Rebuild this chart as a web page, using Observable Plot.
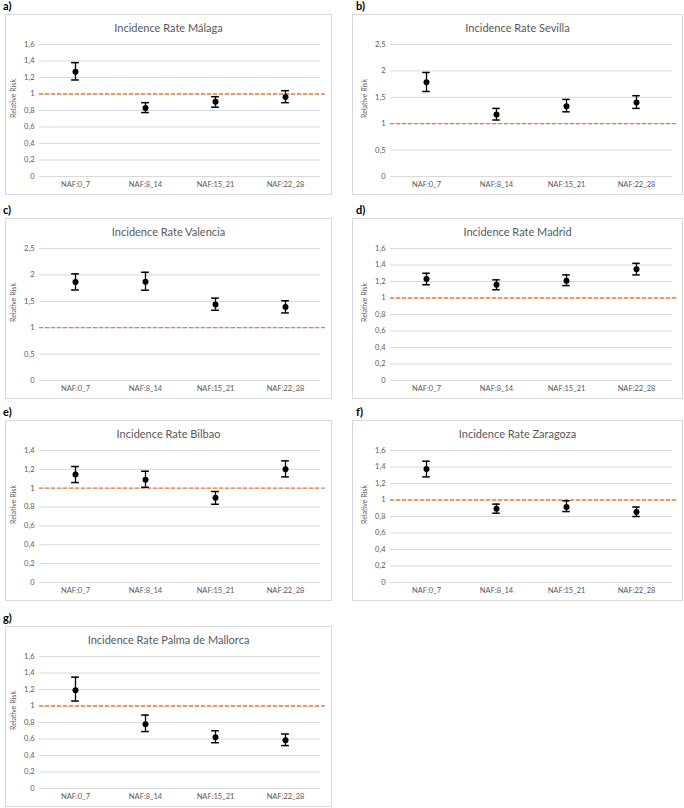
<!DOCTYPE html>
<html><head><meta charset="utf-8">
<script src="https://cdn.jsdelivr.net/npm/d3@7"></script>
<script src="https://cdn.jsdelivr.net/npm/@observablehq/plot@0.6"></script>
<style>
html,body{margin:0;padding:0;background:#fff;}
body{width:684px;height:808px;position:relative;overflow:hidden;font-family:Lato,"Open Sans",sans-serif;}
.lab{position:absolute;font-weight:bold;font-size:11px;line-height:13px;color:#000;}
.box{position:absolute;border:1px solid #d9d9d9;box-sizing:border-box;background:#fff;}
.title{position:absolute;left:0;right:0;top:6px;text-align:center;font-size:11px;line-height:14px;color:#595959;z-index:2;}
.box svg{position:absolute;left:0;top:0;}
</style></head><body>
<script>
const categories = ["NAF:0_7", "NAF:8_14", "NAF:15_21", "NAF:22_28"];
const panelLabels = ["a)", "b)", "c)", "d)", "e)", "f)", "g)"];
const cities = ["Málaga", "Sevilla", "Valencia", "Madrid", "Bilbao", "Zaragoza", "Palma de Mallorca"];

const malagaRR = [1.27, 0.83, 0.905, 0.965];
const malagaLo = [1.17, 0.775, 0.84, 0.895];
const malagaHi = [1.38, 0.895, 0.967, 1.04];

const sevillaRR = [1.785, 1.175, 1.33, 1.40];
const sevillaLo = [1.61, 1.07, 1.225, 1.29];
const sevillaHi = [1.97, 1.29, 1.46, 1.53];

const valenciaRR = [1.866, 1.87, 1.44, 1.39];
const valenciaLo = [1.715, 1.71, 1.33, 1.28];
const valenciaHi = [2.02, 2.05, 1.56, 1.51];

const madridRR = [1.23, 1.16, 1.21, 1.35];
const madridLo = [1.16, 1.10, 1.15, 1.28];
const madridHi = [1.30, 1.22, 1.28, 1.42];

const bilbaoRR = [1.145, 1.09, 0.90, 1.20];
const bilbaoLo = [1.06, 1.01, 0.83, 1.12];
const bilbaoHi = [1.23, 1.18, 0.965, 1.29];

const zaragozaRR = [1.375, 0.895, 0.915, 0.855];
const zaragozaLo = [1.28, 0.84, 0.86, 0.80];
const zaragozaHi = [1.47, 0.95, 0.99, 0.915];

const palmaRR = [1.19, 0.78, 0.62, 0.585];
const palmaLo = [1.06, 0.69, 0.555, 0.52];
const palmaHi = [1.35, 0.89, 0.70, 0.66];

const ticks16 = [0, 0.2, 0.4, 0.6, 0.8, 1, 1.2, 1.4, 1.6];
const ticks25 = [0, 0.5, 1, 1.5, 2, 2.5];
const ticks14 = [0, 0.2, 0.4, 0.6, 0.8, 1, 1.2, 1.4];
const referenceRR = [1];

const seriesRR = [malagaRR, sevillaRR, valenciaRR, madridRR, bilbaoRR, zaragozaRR, palmaRR];
const seriesLo = [malagaLo, sevillaLo, valenciaLo, madridLo, bilbaoLo, zaragozaLo, palmaLo];
const seriesHi = [malagaHi, sevillaHi, valenciaHi, madridHi, bilbaoHi, zaragozaHi, palmaHi];
const seriesTicks = [ticks16, ticks25, ticks25, ticks16, ticks14, ticks16, ticks16];

// layout (positions only)
const boxTops = [14, 218, 420, 626];
const colLeft = [5, 352];
const colWidth = [327, 331];
const boxH = 181;

const fmt = d => String(d).replace(".", ",");

panelLabels.forEach((lab, i) => {
  const row = Math.floor(i / 2), col = i % 2;
  const top = boxTops[row], left = colLeft[col];
  const l = document.createElement("div");
  l.className = "lab";
  l.textContent = lab;
  l.style.left = (col === 0 ? 3 : 356) + "px";
  l.style.top = (top - 15) + "px";
  document.body.appendChild(l);

  const box = document.createElement("div");
  box.className = "box";
  box.style.left = left + "px";
  box.style.top = top + "px";
  box.style.width = colWidth[col] + "px";
  box.style.height = boxH + "px";
  const t = document.createElement("div");
  t.className = "title";
  t.textContent = "Incidence Rate " + cities[i];
  box.appendChild(t);

  const W = colWidth[col] - 2, H = boxH - 2;
  const ml = col === 0 ? 33 : 37, mr = col === 0 ? 11 : 10;
  const bw = (W - ml - mr) / categories.length;
  const cap = 8;
  const inset = (bw - cap) / 2;
  const ticks = seriesTicks[i];
  const data = categories.map((c, j) => ({cat: c, rr: seriesRR[i][j], lo: seriesLo[i][j], hi: seriesHi[i][j]}));

  const svg = Plot.plot({
    width: W, height: H,
    marginTop: 29, marginBottom: 18, marginLeft: ml, marginRight: mr,
    style: {fontFamily: "Lato, 'Open Sans', sans-serif", fontSize: "7.5px", color: "#595959", background: "transparent", overflow: "visible"},
    x: {domain: categories, padding: 0},
    y: {domain: [0, ticks[ticks.length - 1]]},
    marks: [
      Plot.ruleY(ticks, {stroke: "#d9d9d9", strokeWidth: 1}),
      Plot.ruleY(referenceRR, {stroke: "#ED7D31", strokeWidth: 1.3, strokeDasharray: "4,2", insetRight: -5}),
      Plot.ruleX(data, {x: "cat", y1: "lo", y2: "hi", stroke: "#000", strokeWidth: 1.3}),
      Plot.tickY(data, {x: "cat", y: "lo", insetLeft: inset, insetRight: inset, stroke: "#000", strokeWidth: 1.5}),
      Plot.tickY(data, {x: "cat", y: "hi", insetLeft: inset, insetRight: inset, stroke: "#000", strokeWidth: 1.5}),
      Plot.dot(data, {x: "cat", y: "rr", r: 3, fill: "#000", stroke: "none"}),
      Plot.axisX({tickSize: 0, tickPadding: 5, label: null}),
      Plot.axisY({ticks: ticks, tickSize: 0, tickPadding: 5, tickFormat: fmt, label: null}),
      Plot.text(["Relative Risk"], {text: d => d, frameAnchor: "left", rotate: -90, dx: -26, dy: -12, fill: "#595959", fontSize: 7, textAnchor: "middle", lineAnchor: "middle"})
    ]
  });
  box.appendChild(svg);
  document.body.appendChild(box);
});
</script>
</body></html>
